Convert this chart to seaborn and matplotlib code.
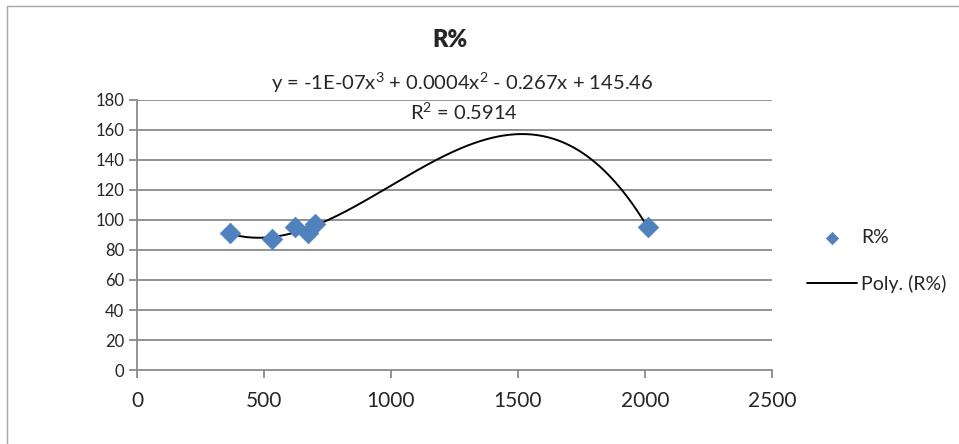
import numpy as np
import pandas as pd
import matplotlib
matplotlib.use("Agg")
import matplotlib.pyplot as plt
import seaborn as sns
from matplotlib.patches import Rectangle

# data
x_vals = [367, 530, 622, 675, 701, 2011]
r_pct = [91, 87, 95.5, 91, 97.5, 95]
x_ticks = [0, 500, 1000, 1500, 2000, 2500]
y_ticks = [0, 20, 40, 60, 80, 100, 120, 140, 160, 180]
title = "R%"
eq_text = "y = -1E-07x$^{3}$ + 0.0004x$^{2}$ - 0.267x + 145.46"
r2_text = "R$^{2}$ = 0.5914"

sns.set_theme(style="white")
plt.rcParams['font.family'] = ['Lato', 'DejaVu Sans']
plt.rcParams['mathtext.fontset'] = 'custom'
plt.rcParams['mathtext.rm'] = 'Lato'
plt.rcParams['mathtext.it'] = 'Lato'
plt.rcParams['mathtext.default'] = 'regular'

df = pd.DataFrame({"x": x_vals, "R%": r_pct})
coef = np.polyfit(df["x"], df["R%"], 3)
xs = np.linspace(min(x_vals), max(x_vals), 300)
trend = pd.DataFrame({"x": xs, "y": np.polyval(coef, xs)})

W, H = 959, 444
fig = plt.figure(figsize=(W / 100, H / 100), dpi=100)
ax = fig.add_axes([137 / W, 1 - 370 / H, (772 - 137) / W, (370 - 100) / H])

# chart outer border
fig.patches.append(Rectangle((7 / W, -0.1), 1.1, (H - 6) / H + 0.1, transform=fig.transFigure,
                             fill=False, edgecolor="#a6a6a6", linewidth=1.0))

grid_c = "#8a8a8a"
for yv in y_ticks[1:]:
    ax.axhline(yv, color=grid_c, linewidth=1.3, zorder=0)

sns.lineplot(data=trend, x="x", y="y", ax=ax, color="black", linewidth=1.4,
             label="Poly. (R%)", zorder=2)
sns.scatterplot(data=df, x="x", y="R%", ax=ax, marker="D", s=110, color="#4F81BD",
                edgecolor="#4F81BD", linewidth=0.5, label="R%", zorder=3)

ax.set_xlim(0, 2500)
ax.set_ylim(0, 180)
ax.set_xticks(x_ticks)
ax.set_yticks(y_ticks)
ax.set_xticklabels([str(t) for t in x_ticks], fontsize=15)
ax.set_yticklabels([str(t) for t in y_ticks], fontsize=12)
ax.set_xlabel("")
ax.set_ylabel("")
for s in ["top", "right"]:
    ax.spines[s].set_visible(False)
for s in ["left", "bottom"]:
    ax.spines[s].set_color(grid_c)
    ax.spines[s].set_linewidth(1.3)
ax.tick_params(axis="both", which="major", direction="out", length=6, width=1.3,
               color=grid_c, left=True, bottom=True)
ax.tick_params(axis="x", pad=9)
ax.tick_params(axis="y", pad=3)

fig.text(450 / W, 1 - 40 / H, title, ha="center", va="center", fontsize=17, fontweight="heavy")
fig.text(462 / W, 1 - 83 / H, eq_text, ha="center", va="center", fontsize=14.5)
fig.text(464 / W, 1 - 112 / H, r2_text, ha="center", va="center", fontsize=14.5)

h, l = ax.get_legend_handles_labels()
order = [l.index("R%"), l.index("Poly. (R%)")]
leg = ax.legend([h[i] for i in order], [l[i] for i in order], loc="center left",
                bbox_to_anchor=(807 / W, 1 - 261 / H), bbox_transform=fig.transFigure,
                frameon=False, fontsize=14, labelspacing=1.5, handlelength=2.57,
                handletextpad=0.2, borderaxespad=0, borderpad=0, markerscale=0.6)

fig.savefig("out.png", dpi=100)
